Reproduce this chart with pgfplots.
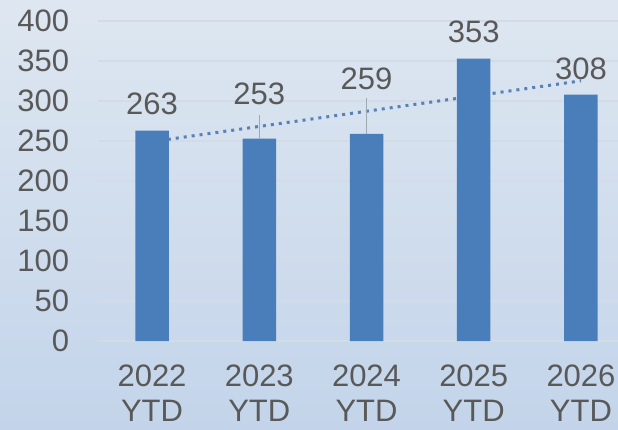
\documentclass[border=0pt]{standalone}
\usepackage{pgfplots}
\pgfplotsset{compat=1.18}
\usepackage{fontspec}
\setmainfont{Liberation Sans}
\definecolor{barblue}{HTML}{4A7EBB}
\definecolor{txt}{HTML}{595959}
\definecolor{bgtop}{HTML}{DEE7F1}
\definecolor{bgbot}{HTML}{C3D4EA}
\definecolor{gridc}{HTML}{D2DBE6}
\definecolor{trend}{HTML}{5A80B8}
\definecolor{leader}{HTML}{A0A8B4}
\newcommand\bigf{\fontsize{31}{35}\selectfont}
\begin{document}
\begin{tikzpicture}
\useasboundingbox (0pt,0pt) rectangle (618pt,429pt);
\shade[top color=bgtop, bottom color=bgbot] (0pt,0pt) rectangle (618pt,429pt);
\clip (0pt,0pt) rectangle (618pt,429pt);
\begin{axis}[
  at={(98.4pt,88pt)}, anchor=south west,
  scale only axis, width=536.2pt, height=320pt,
  xmin=0.5, xmax=5.5, ymin=0, ymax=400,
  axis line style={draw=none},
  tick style={draw=none},
  ymajorgrids, major grid style={gridc, line width=1.2pt},
  ytick={0,50,...,400},
  xtick={1,2,3,4,5},
  xticklabels={{2022\\YTD},{2023\\YTD},{2024\\YTD},{2025\\YTD},{2026\\YTD}},
  /pgf/number format/assume math mode=true,
  yticklabel style={font=\bigf, text=txt, anchor=east, inner sep=0pt, xshift=-29pt},
  xticklabel style={font=\bigf, text=txt, align=center, anchor=north, inner sep=0pt, yshift=-24pt},
  clip=false,
]
% trendline (linear fit)
\addplot[trend, line width=3pt, dash pattern=on 3pt off 5pt] coordinates {(1,249.2) (5,325.2)};
% bars
\addplot[ybar, bar width=33.5pt, fill=barblue, draw=none] coordinates {(1,263) (2,253) (3,259) (4,353) (5,308)};
% leader lines
\addplot[leader, line width=0.9pt] coordinates {(2,253) (2,283)};
\addplot[leader, line width=0.9pt] coordinates {(3,259) (3,304)};
% data labels
\addplot[only marks, mark=*, mark size=0pt, nodes near coords, point meta=explicit symbolic,
  nodes near coords style={font=\bigf, text=txt, inner sep=0pt, anchor=south}]
  table[meta=lbl] {
x y lbl
1 282.5 263
2 295 253
3 313.75 259
4 372.5 353
5 326.25 308
};
\end{axis}
\end{tikzpicture}
\end{document}
